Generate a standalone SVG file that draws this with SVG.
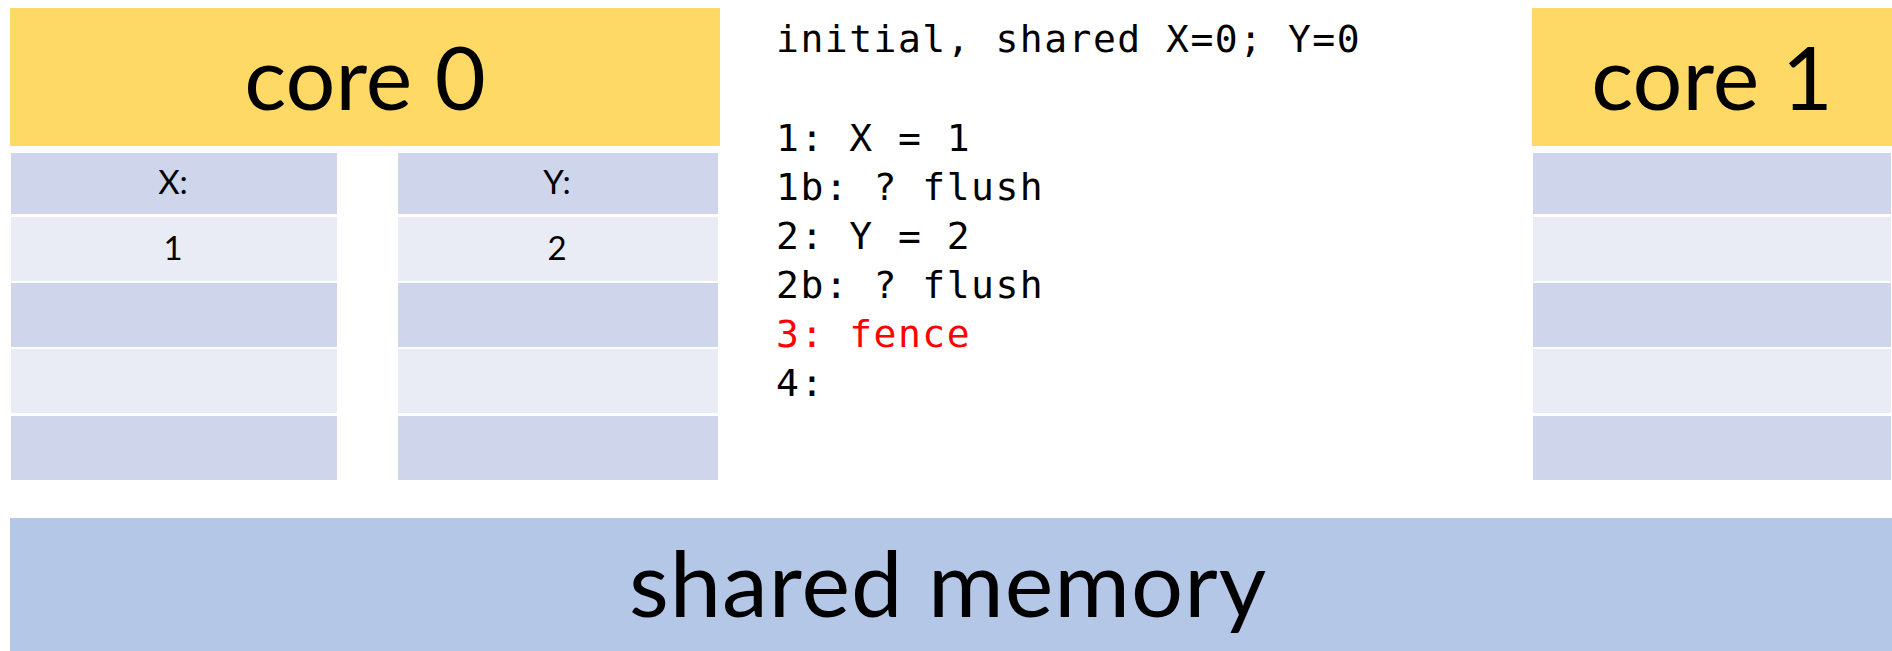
<svg xmlns="http://www.w3.org/2000/svg" width="1892" height="651" viewBox="0 0 1892 651">
<style>
.core{fill:#FFD966}
.dk{fill:#CFD5EA}
.lt{fill:#E9EBF5}
.mem{fill:#B4C7E7}
.big{font-family:Lato,"Open Sans",sans-serif;font-size:88px;fill:#000;text-anchor:middle}
.cell{font-family:Lato,"Open Sans",sans-serif;font-size:33px;fill:#000;text-anchor:middle}
.code{font-family:"DejaVu Sans Mono","Liberation Mono",monospace;font-size:38px;letter-spacing:1.5px;fill:#000}
</style>
<rect width="1892" height="651" fill="#fff"/>
<g id="core0">
<rect class="core" x="10" y="8" width="710" height="138"/>
<text class="big" x="365" y="110">core 0</text>
</g>
<g id="core0-x">
<rect class="dk" x="11" y="153" width="326" height="61"/>
<rect class="lt" x="11" y="217" width="326" height="64"/>
<rect class="dk" x="11" y="283" width="326" height="64"/>
<rect class="lt" x="11" y="349" width="326" height="64"/>
<rect class="dk" x="11" y="416" width="326" height="64"/>
<text class="cell" x="173" y="194">X:</text>
<text class="cell" x="173" y="260">1</text>
</g>
<g id="core0-y">
<rect class="dk" x="398" y="153" width="320" height="61"/>
<rect class="lt" x="398" y="217" width="320" height="64"/>
<rect class="dk" x="398" y="283" width="320" height="64"/>
<rect class="lt" x="398" y="349" width="320" height="64"/>
<rect class="dk" x="398" y="416" width="320" height="64"/>
<text class="cell" x="557" y="194">Y:</text>
<text class="cell" x="557" y="260">2</text>
</g>
<g id="program">
<text class="code" x="776" y="52">initial, shared X=0; Y=0</text>
<text class="code" x="776" y="151">1: X = 1</text>
<text class="code" x="776" y="200">1b: ? flush</text>
<text class="code" x="776" y="249">2: Y = 2</text>
<text class="code" x="776" y="298">2b: ? flush</text>
<text class="code" x="776" y="347" style="fill:#FF0000">3: fence</text>
<text class="code" x="776" y="396">4:</text>
</g>
<g id="core1">
<rect class="core" x="1532" y="8" width="360" height="138"/>
<text class="big" x="1712" y="110">core 1</text>
</g>
<g id="core1-regs">
<rect class="dk" x="1533" y="153" width="358" height="61"/>
<rect class="lt" x="1533" y="217" width="358" height="64"/>
<rect class="dk" x="1533" y="283" width="358" height="64"/>
<rect class="lt" x="1533" y="349" width="358" height="64"/>
<rect class="dk" x="1533" y="416" width="358" height="64"/>
</g>
<g id="shared-memory">
<rect class="mem" x="10" y="518" width="1882" height="133"/>
<text class="big" x="948" y="617" style="font-size:92px;letter-spacing:1px">shared memory</text>
</g>
<g id="connectors"/>
</svg>
